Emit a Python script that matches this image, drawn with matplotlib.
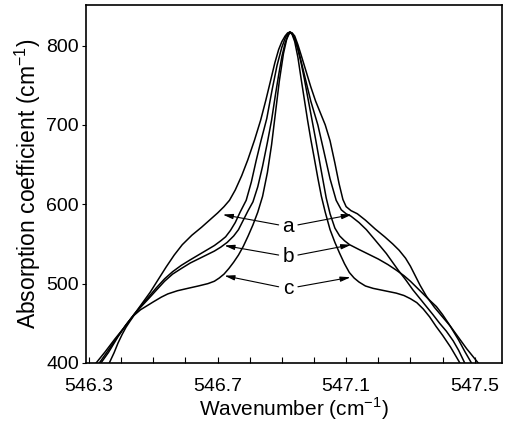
import numpy as np
import matplotlib
matplotlib.use("Agg")
import matplotlib.pyplot as plt
from matplotlib.ticker import MultipleLocator

plt.rcParams['font.family'] = ['Liberation Sans', 'DejaVu Sans']

# traced absorption profiles (wavenumber in cm-1, absorption coefficient in cm-1)
a_x = [546.322, 546.35, 546.38, 546.41, 546.44, 546.465, 546.49, 546.515, 546.54,
       546.565, 546.59, 546.62, 546.65, 546.675, 546.70, 546.72, 546.737, 546.755,
       546.775, 546.794, 546.815, 546.834, 546.85, 546.865, 546.878, 546.89, 546.9,
       546.91, 546.918, 546.925, 546.932, 546.94, 546.95, 546.96, 546.975, 546.99,
       547.005, 547.02, 547.035, 547.05, 547.065, 547.078, 547.09, 547.10, 547.115,
       547.135, 547.16, 547.19, 547.22, 547.245, 547.265, 547.285, 547.30, 547.315,
       547.33, 547.35, 547.375, 547.40, 547.425, 547.45, 547.475, 547.511]
a_y = [400, 414, 430, 445, 461, 475, 489, 505, 521,
       536, 549, 561, 571, 580, 589, 597, 605, 618,
       636, 656, 681, 706, 731, 756, 778, 795, 805,
       812, 816, 817, 816, 812, 801, 788, 768, 748,
       730, 715, 700, 680, 652, 626, 606, 597, 592,
       588, 580, 569, 559, 550, 542, 532, 522, 510,
       498, 484, 470, 458, 446, 432, 418, 400]

b_x = [546.332, 546.36, 546.39, 546.415, 546.44, 546.46, 546.483, 546.51, 546.535,
       546.56, 546.587, 546.615, 546.64, 546.665, 546.69, 546.71, 546.73, 546.75,
       546.765, 546.78, 546.795, 546.81, 546.825, 546.84, 546.855, 546.868, 546.88,
       546.89, 546.9, 546.91, 546.918, 546.925, 546.932, 546.94, 546.95, 546.96,
       546.97, 546.98, 546.993, 547.005, 547.02, 547.038, 547.05, 547.065, 547.08,
       547.095, 547.111, 547.14, 547.17, 547.2, 547.23, 547.256, 547.28, 547.30,
       547.32, 547.34, 547.36, 547.381, 547.40, 547.42, 547.45, 547.47, 547.49]
b_y = [400, 416, 434, 448, 461, 470, 480, 492, 503,
       512, 519, 526, 531, 536, 541, 546, 552, 560,
       568, 580, 592, 603, 622, 648, 678, 706, 738,
       763, 786, 803, 812, 817, 815, 808, 795, 778,
       758, 736, 708, 682, 648, 608, 588, 570, 560,
       554, 549, 543, 537, 531, 524, 517, 510, 503,
       495, 487, 479, 471, 461, 449, 429, 414, 400]

d_x = [546.337, 546.36, 546.39, 546.415, 546.44, 546.46, 546.483, 546.51, 546.535,
       546.56, 546.587, 546.615, 546.64, 546.665, 546.69, 546.71, 546.725, 546.74,
       546.755, 546.77, 546.789, 546.805, 546.82, 546.835, 546.853, 546.87, 546.885,
       546.9, 546.912, 546.925, 546.932, 546.94, 546.95, 546.96, 546.975, 546.99,
       547.012, 547.03, 547.05, 547.069, 547.085, 547.1, 547.115, 547.14, 547.163,
       547.19, 547.225, 547.262, 547.285, 547.308, 547.33, 547.35, 547.37, 547.391,
       547.412, 547.433, 547.45, 547.469]
d_y = [400, 413, 433, 448, 461, 471, 482, 495, 506,
       515, 523, 530, 536, 542, 548, 554, 559, 567,
       577, 590, 605, 628, 655, 680, 708, 745, 775,
       798, 811, 817, 815, 809, 797, 780, 755, 730,
       700, 668, 632, 605, 593, 588, 585, 577, 568,
       555, 538, 517, 505, 492, 481, 471, 461, 450,
       440, 428, 416, 400]

c_x = [546.363, 546.378, 546.39, 546.403, 546.415, 546.428, 546.44, 546.46, 546.48,
       546.5, 546.525, 546.545, 546.575, 546.607, 546.64, 546.67, 546.69, 546.705,
       546.72, 546.735, 546.75, 546.765, 546.78, 546.795, 546.81, 546.825, 546.84,
       546.855, 546.868, 546.88, 546.892, 546.905, 546.915, 546.925, 546.932, 546.94,
       546.95, 546.96, 546.97, 546.98, 546.99, 547.0, 547.012, 547.023, 547.035,
       547.05, 547.065, 547.08, 547.095, 547.11, 547.125, 547.14, 547.16, 547.184,
       547.22, 547.256, 547.28, 547.30, 547.32, 547.34, 547.36, 547.38, 547.40,
       547.425, 547.454]
c_y = [400, 413, 425, 436, 445, 453, 460, 467, 472,
       477, 483, 487, 491, 494, 497, 500, 503, 507,
       512, 519, 527, 536, 547, 560, 574, 590, 610,
       640, 675, 715, 755, 790, 808, 817, 814, 805,
       785, 758, 732, 706, 682, 660, 633, 610, 590,
       568, 552, 538, 525, 514, 507, 502, 497, 494,
       491, 488, 485, 481, 476, 468, 458, 446, 435,
       420, 400]

labels = ['a', 'b', 'c']
label_y = [572, 534, 494]
tips_left = [(546.716, 587), (546.721, 548), (546.721, 510)]
tips_right = [(547.118, 587), (547.116, 549), (547.114, 508)]

fig = plt.figure(figsize=(5.05, 4.26), dpi=100)
ax = fig.add_axes([0.170, 0.148, 0.824, 0.840])

for xs, ys in [(a_x, a_y), (b_x, b_y), (d_x, d_y), (c_x, c_y)]:
    ax.plot(xs, ys, color='black', lw=1.1)

for lab, ly, tl, tr in zip(labels, label_y, tips_left, tips_right):
    ax.text(546.919, ly, lab, fontsize=15, ha='center', va='center')
    ap = dict(arrowstyle='-|>,head_length=0.6,head_width=0.15', color='black',
              lw=0.8, shrinkA=0, shrinkB=0)
    ax.annotate('', xy=tl, xytext=(546.89, ly + 2), arrowprops=ap)
    ax.annotate('', xy=tr, xytext=(546.95, ly + 2), arrowprops=ap)

ax.set_xlim(546.29, 547.585)
ax.set_ylim(400, 851)
ax.set_xticks([546.3, 546.7, 547.1, 547.5])
ax.set_xticklabels(['546.3', '546.7', '547.1', '547.5'])
ax.xaxis.set_minor_locator(MultipleLocator(0.1))
ax.set_yticks([400, 500, 600, 700, 800])
ax.tick_params(axis='x', which='both', direction='in', length=4, width=0.8,
               labelsize=14, pad=11)
ax.tick_params(axis='y', direction='out', length=3, width=0.8, labelsize=14, pad=2)
for s in ax.spines.values():
    s.set_linewidth(1.2)

ax.set_xlabel('Wavenumber (cm$^{\\mathregular{-1}}$)', fontsize=15, labelpad=0)
ax.set_ylabel('Absorption coefficient (cm$^{\\mathregular{-1}}$)', fontsize=16.5, labelpad=2)

fig.savefig('out.png', dpi=100)
